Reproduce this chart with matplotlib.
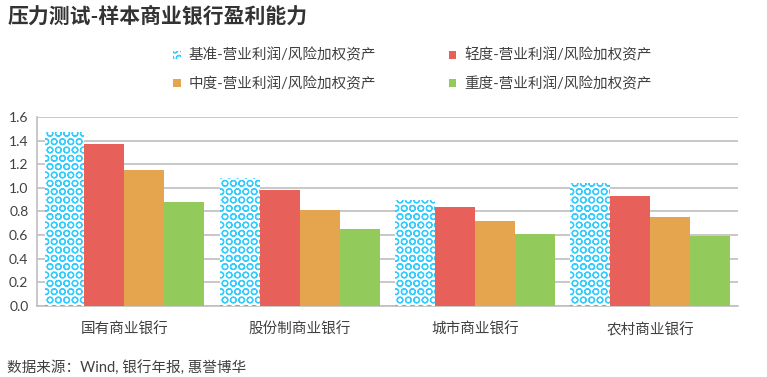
import numpy as np
import matplotlib
matplotlib.use("Agg")
import matplotlib.pyplot as plt

plt.rcParams['font.family'] = ['Lato', 'Noto Sans CJK SC', 'DejaVu Sans']
plt.rcParams['hatch.linewidth'] = 0.9

# ---- data ----
categories = ['国有商业银行', '股份制商业银行', '城市商业银行', '农村商业银行']
series_names = ['基准-营业利润/风险加权资产', '轻度-营业利润/风险加权资产',
                '中度-营业利润/风险加权资产', '重度-营业利润/风险加权资产']
base = [1.47, 1.08, 0.90, 1.04]
light = [1.37, 0.98, 0.84, 0.93]
medium = [1.15, 0.81, 0.72, 0.75]
heavy = [0.88, 0.65, 0.61, 0.59]
yticks = [0.0, 0.2, 0.4, 0.6, 0.8, 1.0, 1.2, 1.4, 1.6]

colors = ['#33CCFF', '#E8605A', '#E5A54E', '#92CA5C']
text_color = '#404040'

fig = plt.figure(figsize=(7.67, 3.77), dpi=100)
ax = fig.add_axes([0.048, 0.188, 0.914, 0.502])

x = np.arange(len(categories))
w = 0.228
values = [base, light, medium, heavy]
handles = []
for i, vals in enumerate(values):
    pos = x + (i - 1.5) * w
    if i == 0:
        h = ax.bar(pos, vals, w, facecolor='white', edgecolor=colors[0],
                   linewidth=0, hatch='OO', label=series_names[i], zorder=3)
    else:
        h = ax.bar(pos, vals, w, color=colors[i], linewidth=0,
                   label=series_names[i], zorder=3)
    handles.append(h)

ax.set_xlim(-0.5, len(categories) - 0.5)
ax.set_ylim(0, 1.6)
ax.set_yticks(yticks)
ax.set_yticklabels([f'{v:.1f}' for v in yticks], fontsize=10, color=text_color)
ax.set_xticks(x)
ax.set_xticklabels(categories, fontsize=10.5, color=text_color)
ax.tick_params(axis='both', length=0, pad=6)
ax.tick_params(axis='x', pad=12)
ax.yaxis.grid(True, color='#BFBFBF', linewidth=1.2, zorder=0)
ax.set_axisbelow(True)
for s in ['top', 'right']:
    ax.spines[s].set_visible(False)
for s in ['left', 'bottom']:
    ax.spines[s].set_color('#BFBFBF')
    ax.spines[s].set_linewidth(1.2)

# legend order: row1 base, light; row2 medium, heavy
order = [0, 2, 1, 3]
leg = fig.legend([handles[k] for k in order], [series_names[k] for k in order],
                 ncol=2, loc='center', bbox_to_anchor=(0.538, 0.815),
                 frameon=False, fontsize=10.5,
                 handlelength=0.5, handleheight=0.5, handletextpad=0.55,
                 columnspacing=5.0, labelspacing=0.95, labelcolor=text_color)

fig.text(0.010, 0.955, '压力测试-样本商业银行盈利能力', fontsize=15,
         fontweight='bold', color='#333333', va='center', ha='left')
fig.text(0.009, 0.024, '数据来源：Wind, 银行年报, 惠誉博华', fontsize=10.5,
         color=text_color, va='center', ha='left')

fig.savefig('out.png', dpi=100)
